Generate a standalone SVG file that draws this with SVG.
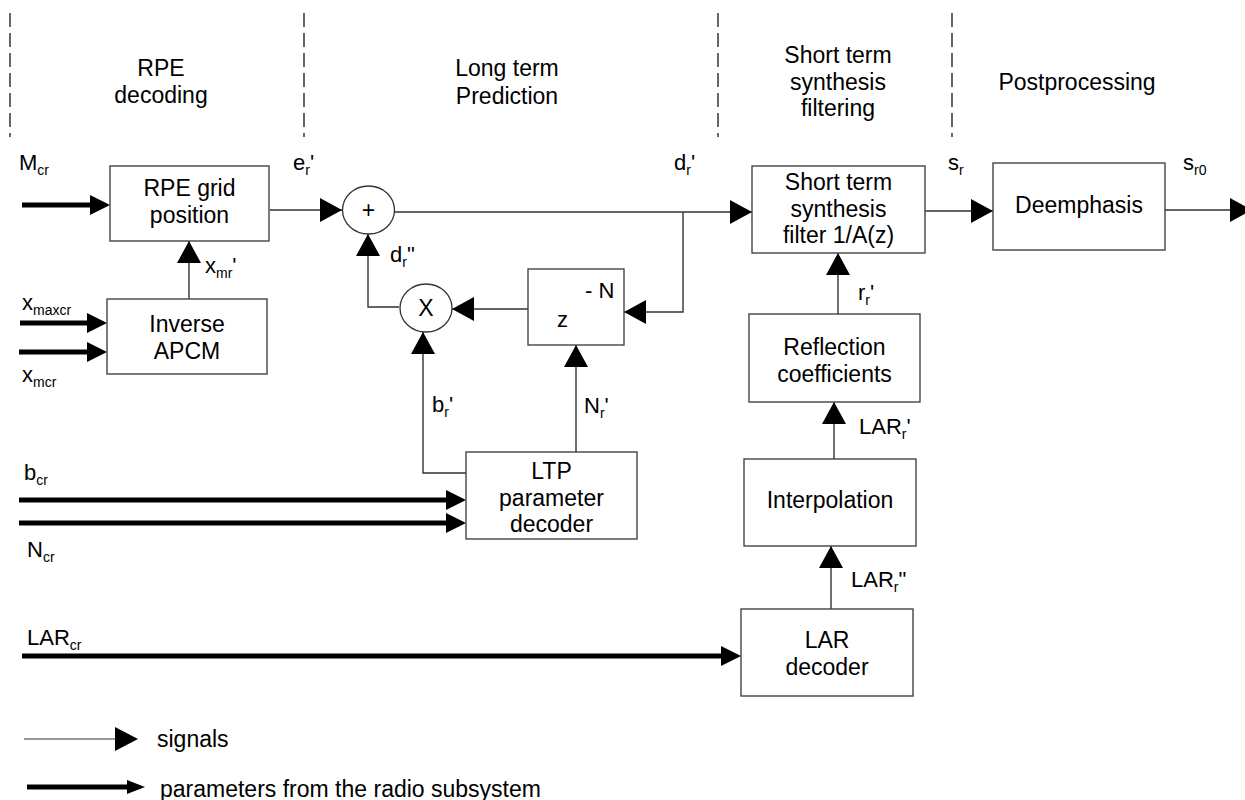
<svg xmlns="http://www.w3.org/2000/svg" width="1245" height="800" viewBox="0 0 1245 800">
<style>
text{font-family:"Liberation Sans",Arial,sans-serif;fill:#000;}
.t{font-size:23px;text-anchor:middle;}
.l{font-size:22px;}
.sub{font-size:14px;}
.box{fill:#fff;stroke:#444;stroke-width:1.4;}
.circ{fill:#fff;stroke:#333;stroke-width:1.3;}
.sig{fill:none;stroke:#333;stroke-width:1.4;marker-end:url(#ah);}
.par{fill:none;stroke:#000;stroke-width:5;marker-end:url(#ahp);}
.dash{stroke:#000;stroke-width:1.2;stroke-dasharray:14 6;}
</style>
<defs>
<marker id="ah" markerUnits="userSpaceOnUse" markerWidth="22" markerHeight="24" refX="22" refY="12" orient="auto"><path d="M0,0 L22,12 L0,24 z" fill="#000"/></marker>
<marker id="ahp" markerUnits="userSpaceOnUse" markerWidth="20" markerHeight="20" refX="10" refY="10" orient="auto"><path d="M0,0 L20,10 L0,20 z" fill="#000"/></marker>
</defs>
<rect width="1245" height="800" fill="#fff"/>

<g id="sections">
<line class="dash" x1="10" y1="13" x2="10" y2="137"/>
<line class="dash" x1="304" y1="13" x2="304" y2="137"/>
<line class="dash" x1="718" y1="13" x2="718" y2="137"/>
<line class="dash" x1="952" y1="13" x2="952" y2="137"/>
<text class="t" x="161" y="76">RPE</text>
<text class="t" x="161" y="103">decoding</text>
<text class="t" x="507" y="76">Long term</text>
<text class="t" x="507" y="104">Prediction</text>
<text class="t" x="838" y="63">Short term</text>
<text class="t" x="838" y="90">synthesis</text>
<text class="t" x="838" y="116">filtering</text>
<text class="t" x="1077" y="90">Postprocessing</text>
</g>

<g id="connectors">
<path class="sig" d="M270,210 H342"/>
<path class="sig" d="M395,212 H752"/>
<path class="sig" d="M683,212 V312 H624"/>
<path class="sig" d="M528,309 H452"/>
<path class="sig" d="M399,307 H368 V234"/>
<path class="sig" d="M466,473 H423 V332"/>
<path class="sig" d="M576,452 V345"/>
<path class="sig" d="M189,299 V241"/>
<path class="sig" d="M831,609 V546"/>
<path class="sig" d="M834,459 V402"/>
<path class="sig" d="M838,314 V253"/>
<path class="sig" d="M925,211 H993"/>
<path class="sig" d="M1165,210 H1252"/>
<path class="par" d="M22,205 H100"/>
<path class="par" d="M20,323 H97"/>
<path class="par" d="M19,352 H97"/>
<path class="par" d="M19,500 H456"/>
<path class="par" d="M19,523 H456"/>
<path class="par" d="M22,656 H731"/>
</g>

<g id="rpe-grid">
<rect class="box" x="110" y="166" width="159" height="75"/>
<text class="t" x="189.5" y="196">RPE grid</text>
<text class="t" x="189.5" y="223">position</text>
</g>
<g id="inverse-apcm">
<rect class="box" x="107" y="299" width="160" height="75"/>
<text class="t" x="187" y="332">Inverse</text>
<text class="t" x="187" y="359">APCM</text>
</g>
<g id="adder">
<ellipse class="circ" cx="368.5" cy="210" rx="26" ry="24"/>
<text class="t" x="368.5" y="218">+</text>
</g>
<g id="multiplier">
<ellipse class="circ" cx="426" cy="308" rx="26" ry="24"/>
<text class="t" x="426" y="316">X</text>
</g>
<g id="delay">
<rect class="box" x="528" y="269" width="96" height="76"/>
<text class="l" x="557" y="327">z</text>
<text class="l" x="585" y="298">- N</text>
</g>
<g id="ltp-decoder">
<rect class="box" x="466" y="452" width="171" height="87"/>
<text class="t" x="551.5" y="479">LTP</text>
<text class="t" x="551.5" y="506">parameter</text>
<text class="t" x="551.5" y="532">decoder</text>
</g>
<g id="st-filter">
<rect class="box" x="752" y="166" width="173" height="87"/>
<text class="t" x="838.5" y="190">Short term</text>
<text class="t" x="838.5" y="217">synthesis</text>
<text class="t" x="838.5" y="243">filter 1/A(z)</text>
</g>
<g id="reflection">
<rect class="box" x="749" y="314" width="171" height="88"/>
<text class="t" x="834.5" y="355">Reflection</text>
<text class="t" x="834.5" y="382">coefficients</text>
</g>
<g id="interpolation">
<rect class="box" x="744" y="459" width="172" height="87"/>
<text class="t" x="830" y="508">Interpolation</text>
</g>
<g id="lar-decoder">
<rect class="box" x="741" y="609" width="172" height="87"/>
<text class="t" x="827" y="648">LAR</text>
<text class="t" x="827" y="675">decoder</text>
</g>
<g id="deemphasis">
<rect class="box" x="993" y="163" width="172" height="87"/>
<text class="t" x="1079" y="213">Deemphasis</text>
</g>

<g id="labels">
<text class="l" x="19" y="170">M<tspan class="sub" dy="5">cr</tspan></text>
<text class="l" x="293" y="170">e<tspan class="sub" dy="5">r</tspan><tspan dy="-5">'</tspan></text>
<text class="l" x="674" y="170">d<tspan class="sub" dy="5">r</tspan><tspan dy="-5">'</tspan></text>
<text class="l" x="948" y="170">s<tspan class="sub" dy="5">r</tspan></text>
<text class="l" x="1183" y="170">s<tspan class="sub" dy="5">r0</tspan></text>
<text class="l" x="205" y="273">x<tspan class="sub" dy="5">mr</tspan><tspan dy="-5">'</tspan></text>
<text class="l" x="390" y="262">d<tspan class="sub" dy="5">r</tspan><tspan dy="-5">"</tspan></text>
<text class="l" x="22" y="310">x<tspan class="sub" dy="5">maxcr</tspan></text>
<text class="l" x="22" y="382">x<tspan class="sub" dy="5">mcr</tspan></text>
<text class="l" x="432" y="412">b<tspan class="sub" dy="5">r</tspan><tspan dy="-5">'</tspan></text>
<text class="l" x="584" y="413">N<tspan class="sub" dy="5">r</tspan><tspan dy="-5">'</tspan></text>
<text class="l" x="858" y="300">r<tspan class="sub" dy="5">r</tspan><tspan dy="-5">'</tspan></text>
<text class="l" x="859" y="434">LAR<tspan class="sub" dy="5">r</tspan><tspan dy="-5">'</tspan></text>
<text class="l" x="851" y="587">LAR<tspan class="sub" dy="5">r</tspan><tspan dy="-5">"</tspan></text>
<text class="l" x="24" y="480">b<tspan class="sub" dy="5">cr</tspan></text>
<text class="l" x="27" y="557">N<tspan class="sub" dy="5">cr</tspan></text>
<text class="l" x="27" y="645">LAR<tspan class="sub" dy="5">cr</tspan></text>
</g>

<g id="legend">
<path d="M24,739 H116" stroke="#777" stroke-width="1.4" fill="none"/>
<polygon points="115,727 138,739 115,751" fill="#000"/>
<text class="l" x="157" y="747" style="font-size:23px">signals</text>
<path d="M27,787 H129" stroke="#000" stroke-width="5" fill="none"/>
<polygon points="127,780 145,787 127,794" fill="#000"/>
<text class="l" x="160" y="797" style="font-size:23px">parameters from the radio subsystem</text>
</g>
</svg>
